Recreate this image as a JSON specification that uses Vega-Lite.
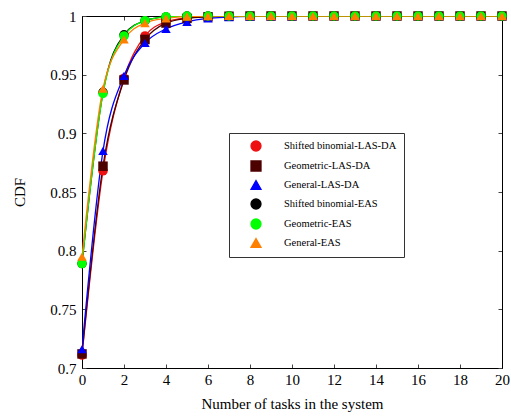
{
  "$schema": "https://vega.github.io/schema/vega-lite/v6.json",
  "width": 420,
  "height": 352,
  "autosize": {"type": "none"},
  "padding": {"left": 82, "top": 16, "right": 9, "bottom": 52},
  "background": "white",
  "config": {
    "view": {"stroke": "black", "strokeWidth": 1},
    "font": "Liberation Serif",
    "axis": {
      "grid": false,
      "domainColor": "black",
      "tickColor": "#444",
      "tickSize": -4,
      "labelColor": "black",
      "titleColor": "black",
      "labelFont": "Liberation Serif",
      "titleFont": "Liberation Serif",
      "labelFontSize": 15,
      "titleFontSize": 15,
      "titleFontWeight": "normal"
    },
    "legend": {
      "labelFont": "Liberation Serif",
      "labelFontSize": 10.5,
      "labelColor": "black"
    }
  },
  "data": {
    "values": [
      {"s": "Shifted binomial-LAS-DA", "k": 1, "x": 0, "y": 0.711},
      {"s": "Shifted binomial-LAS-DA", "k": 1, "x": 1, "y": 0.868},
      {"s": "Shifted binomial-LAS-DA", "k": 1, "x": 2, "y": 0.947},
      {"s": "Shifted binomial-LAS-DA", "k": 1, "x": 3, "y": 0.983},
      {"s": "Shifted binomial-LAS-DA", "k": 1, "x": 4, "y": 0.995},
      {"s": "Shifted binomial-LAS-DA", "k": 1, "x": 5, "y": 0.9985},
      {"s": "Shifted binomial-LAS-DA", "k": 1, "x": 6, "y": 0.9996},
      {"s": "Shifted binomial-LAS-DA", "k": 1, "x": 7, "y": 0.9999},
      {"s": "Shifted binomial-LAS-DA", "k": 1, "x": 8, "y": 1},
      {"s": "Shifted binomial-LAS-DA", "k": 1, "x": 9, "y": 1},
      {"s": "Shifted binomial-LAS-DA", "k": 1, "x": 10, "y": 1},
      {"s": "Shifted binomial-LAS-DA", "k": 1, "x": 11, "y": 1},
      {"s": "Shifted binomial-LAS-DA", "k": 1, "x": 12, "y": 1},
      {"s": "Shifted binomial-LAS-DA", "k": 1, "x": 13, "y": 1},
      {"s": "Shifted binomial-LAS-DA", "k": 1, "x": 14, "y": 1},
      {"s": "Shifted binomial-LAS-DA", "k": 1, "x": 15, "y": 1},
      {"s": "Shifted binomial-LAS-DA", "k": 1, "x": 16, "y": 1},
      {"s": "Shifted binomial-LAS-DA", "k": 1, "x": 17, "y": 1},
      {"s": "Shifted binomial-LAS-DA", "k": 1, "x": 18, "y": 1},
      {"s": "Shifted binomial-LAS-DA", "k": 1, "x": 19, "y": 1},
      {"s": "Shifted binomial-LAS-DA", "k": 1, "x": 20, "y": 1},
      {"s": "Geometric-LAS-DA", "k": 2, "x": 0, "y": 0.712},
      {"s": "Geometric-LAS-DA", "k": 2, "x": 1, "y": 0.872},
      {"s": "Geometric-LAS-DA", "k": 2, "x": 2, "y": 0.9455},
      {"s": "Geometric-LAS-DA", "k": 2, "x": 3, "y": 0.980},
      {"s": "Geometric-LAS-DA", "k": 2, "x": 4, "y": 0.994},
      {"s": "Geometric-LAS-DA", "k": 2, "x": 5, "y": 0.998},
      {"s": "Geometric-LAS-DA", "k": 2, "x": 6, "y": 0.9993},
      {"s": "Geometric-LAS-DA", "k": 2, "x": 7, "y": 0.9998},
      {"s": "Geometric-LAS-DA", "k": 2, "x": 8, "y": 1},
      {"s": "Geometric-LAS-DA", "k": 2, "x": 9, "y": 1},
      {"s": "Geometric-LAS-DA", "k": 2, "x": 10, "y": 1},
      {"s": "Geometric-LAS-DA", "k": 2, "x": 11, "y": 1},
      {"s": "Geometric-LAS-DA", "k": 2, "x": 12, "y": 1},
      {"s": "Geometric-LAS-DA", "k": 2, "x": 13, "y": 1},
      {"s": "Geometric-LAS-DA", "k": 2, "x": 14, "y": 1},
      {"s": "Geometric-LAS-DA", "k": 2, "x": 15, "y": 1},
      {"s": "Geometric-LAS-DA", "k": 2, "x": 16, "y": 1},
      {"s": "Geometric-LAS-DA", "k": 2, "x": 17, "y": 1},
      {"s": "Geometric-LAS-DA", "k": 2, "x": 18, "y": 1},
      {"s": "Geometric-LAS-DA", "k": 2, "x": 19, "y": 1},
      {"s": "Geometric-LAS-DA", "k": 2, "x": 20, "y": 1},
      {"s": "General-LAS-DA", "k": 3, "x": 0, "y": 0.716},
      {"s": "General-LAS-DA", "k": 3, "x": 1, "y": 0.885},
      {"s": "General-LAS-DA", "k": 3, "x": 2, "y": 0.949},
      {"s": "General-LAS-DA", "k": 3, "x": 3, "y": 0.977},
      {"s": "General-LAS-DA", "k": 3, "x": 4, "y": 0.989},
      {"s": "General-LAS-DA", "k": 3, "x": 5, "y": 0.995},
      {"s": "General-LAS-DA", "k": 3, "x": 6, "y": 0.998},
      {"s": "General-LAS-DA", "k": 3, "x": 7, "y": 0.999},
      {"s": "General-LAS-DA", "k": 3, "x": 8, "y": 0.9996},
      {"s": "General-LAS-DA", "k": 3, "x": 9, "y": 0.9998},
      {"s": "General-LAS-DA", "k": 3, "x": 10, "y": 0.9999},
      {"s": "General-LAS-DA", "k": 3, "x": 11, "y": 1},
      {"s": "General-LAS-DA", "k": 3, "x": 12, "y": 1},
      {"s": "General-LAS-DA", "k": 3, "x": 13, "y": 1},
      {"s": "General-LAS-DA", "k": 3, "x": 14, "y": 1},
      {"s": "General-LAS-DA", "k": 3, "x": 15, "y": 1},
      {"s": "General-LAS-DA", "k": 3, "x": 16, "y": 1},
      {"s": "General-LAS-DA", "k": 3, "x": 17, "y": 1},
      {"s": "General-LAS-DA", "k": 3, "x": 18, "y": 1},
      {"s": "General-LAS-DA", "k": 3, "x": 19, "y": 1},
      {"s": "General-LAS-DA", "k": 3, "x": 20, "y": 1},
      {"s": "Shifted binomial-EAS", "k": 4, "x": 0, "y": 0.789},
      {"s": "Shifted binomial-EAS", "k": 4, "x": 1, "y": 0.935},
      {"s": "Shifted binomial-EAS", "k": 4, "x": 2, "y": 0.984},
      {"s": "Shifted binomial-EAS", "k": 4, "x": 3, "y": 0.996},
      {"s": "Shifted binomial-EAS", "k": 4, "x": 4, "y": 0.9992},
      {"s": "Shifted binomial-EAS", "k": 4, "x": 5, "y": 0.9999},
      {"s": "Shifted binomial-EAS", "k": 4, "x": 6, "y": 1},
      {"s": "Shifted binomial-EAS", "k": 4, "x": 7, "y": 1},
      {"s": "Shifted binomial-EAS", "k": 4, "x": 8, "y": 1},
      {"s": "Shifted binomial-EAS", "k": 4, "x": 9, "y": 1},
      {"s": "Shifted binomial-EAS", "k": 4, "x": 10, "y": 1},
      {"s": "Shifted binomial-EAS", "k": 4, "x": 11, "y": 1},
      {"s": "Shifted binomial-EAS", "k": 4, "x": 12, "y": 1},
      {"s": "Shifted binomial-EAS", "k": 4, "x": 13, "y": 1},
      {"s": "Shifted binomial-EAS", "k": 4, "x": 14, "y": 1},
      {"s": "Shifted binomial-EAS", "k": 4, "x": 15, "y": 1},
      {"s": "Shifted binomial-EAS", "k": 4, "x": 16, "y": 1},
      {"s": "Shifted binomial-EAS", "k": 4, "x": 17, "y": 1},
      {"s": "Shifted binomial-EAS", "k": 4, "x": 18, "y": 1},
      {"s": "Shifted binomial-EAS", "k": 4, "x": 19, "y": 1},
      {"s": "Shifted binomial-EAS", "k": 4, "x": 20, "y": 1},
      {"s": "Geometric-EAS", "k": 5, "x": 0, "y": 0.789},
      {"s": "Geometric-EAS", "k": 5, "x": 1, "y": 0.934},
      {"s": "Geometric-EAS", "k": 5, "x": 2, "y": 0.983},
      {"s": "Geometric-EAS", "k": 5, "x": 3, "y": 0.996},
      {"s": "Geometric-EAS", "k": 5, "x": 4, "y": 0.9993},
      {"s": "Geometric-EAS", "k": 5, "x": 5, "y": 0.9999},
      {"s": "Geometric-EAS", "k": 5, "x": 6, "y": 1},
      {"s": "Geometric-EAS", "k": 5, "x": 7, "y": 1},
      {"s": "Geometric-EAS", "k": 5, "x": 8, "y": 1},
      {"s": "Geometric-EAS", "k": 5, "x": 9, "y": 1},
      {"s": "Geometric-EAS", "k": 5, "x": 10, "y": 1},
      {"s": "Geometric-EAS", "k": 5, "x": 11, "y": 1},
      {"s": "Geometric-EAS", "k": 5, "x": 12, "y": 1},
      {"s": "Geometric-EAS", "k": 5, "x": 13, "y": 1},
      {"s": "Geometric-EAS", "k": 5, "x": 14, "y": 1},
      {"s": "Geometric-EAS", "k": 5, "x": 15, "y": 1},
      {"s": "Geometric-EAS", "k": 5, "x": 16, "y": 1},
      {"s": "Geometric-EAS", "k": 5, "x": 17, "y": 1},
      {"s": "Geometric-EAS", "k": 5, "x": 18, "y": 1},
      {"s": "Geometric-EAS", "k": 5, "x": 19, "y": 1},
      {"s": "Geometric-EAS", "k": 5, "x": 20, "y": 1},
      {"s": "General-EAS", "k": 6, "x": 0, "y": 0.795},
      {"s": "General-EAS", "k": 6, "x": 1, "y": 0.938},
      {"s": "General-EAS", "k": 6, "x": 2, "y": 0.980},
      {"s": "General-EAS", "k": 6, "x": 3, "y": 0.994},
      {"s": "General-EAS", "k": 6, "x": 4, "y": 0.998},
      {"s": "General-EAS", "k": 6, "x": 5, "y": 0.9995},
      {"s": "General-EAS", "k": 6, "x": 6, "y": 0.9999},
      {"s": "General-EAS", "k": 6, "x": 7, "y": 1},
      {"s": "General-EAS", "k": 6, "x": 8, "y": 1},
      {"s": "General-EAS", "k": 6, "x": 9, "y": 1},
      {"s": "General-EAS", "k": 6, "x": 10, "y": 1},
      {"s": "General-EAS", "k": 6, "x": 11, "y": 1},
      {"s": "General-EAS", "k": 6, "x": 12, "y": 1},
      {"s": "General-EAS", "k": 6, "x": 13, "y": 1},
      {"s": "General-EAS", "k": 6, "x": 14, "y": 1},
      {"s": "General-EAS", "k": 6, "x": 15, "y": 1},
      {"s": "General-EAS", "k": 6, "x": 16, "y": 1},
      {"s": "General-EAS", "k": 6, "x": 17, "y": 1},
      {"s": "General-EAS", "k": 6, "x": 18, "y": 1},
      {"s": "General-EAS", "k": 6, "x": 19, "y": 1},
      {"s": "General-EAS", "k": 6, "x": 20, "y": 1}
    ]
  },
  "encoding": {
    "color": {
      "field": "s", "type": "nominal",
      "scale": {
        "domain": ["Shifted binomial-LAS-DA", "Geometric-LAS-DA", "General-LAS-DA", "Shifted binomial-EAS", "Geometric-EAS", "General-EAS"],
        "range": ["#ee1111", "#4d0000", "#0000ff", "#000000", "#00ff00", "#ff8000"]
      },
      "legend": {
        "title": null,
        "orient": "none",
        "legendX": 147,
        "legendY": 117,
        "labelFont": "Liberation Serif",
        "labelFontSize": 10.5,
        "labelColor": "black",
        "fillColor": "white",
        "strokeColor": "#333",
        "padding": 7,
        "rowPadding": 4,
        "labelOffset": 22,
        "symbolOffset": 14,
        "symbolType": "M-3.2,0H3.2M0.9,0A0.9,0.9,0,1,1,-0.9,0A0.9,0.9,0,1,1,0.9,0Z",
        "symbolSize": 100,
        "symbolStrokeWidth": 1.3,
        "encode": {
          "symbols": {
            "update": {
              "shape": {"signal": "datum.value === 'Geometric-LAS-DA' ? 'M-3.2,0H3.2M-0.85,-0.85H0.85V0.85H-0.85Z' : (datum.value === 'General-LAS-DA' || datum.value === 'General-EAS') ? 'M-3.2,0H3.2M0,-1.05L0.95,0.65H-0.95Z' : 'M-3.2,0H3.2M0.9,0A0.9,0.9,0,1,1,-0.9,0A0.9,0.9,0,1,1,0.9,0Z'"},
              "size": {"value": 100},
              "stroke": {"signal": "scale('color', datum.value)"},
              "strokeWidth": {"value": 1.3}
            }
          }
        }
      }
    }
  },
  "layer": [
    {
      "mark": {"type": "line", "interpolate": "monotone", "strokeWidth": 1.3, "clip": true},
      "encoding": {
        "x": {
          "field": "x", "type": "quantitative",
          "scale": {"domain": [0, 20], "nice": false},
          "axis": {"title": "Number of tasks in the system", "values": [0,2,4,6,8,10,12,14,16,18,20], "labelPadding": 8, "titlePadding": 9, "labelFlush": false}
        },
        "y": {
          "field": "y", "type": "quantitative",
          "scale": {"domain": [0.7, 1], "nice": false, "zero": false},
          "axis": {"title": "CDF", "values": [0.7,0.75,0.8,0.85,0.9,0.95,1], "labelExpr": "format(datum.value, '~g')", "labelPadding": 10, "titlePadding": 22, "labelFlush": false}
        },
        "detail": {"field": "s"}
      }
    },
    {
      "mark": {"type": "point", "filled": true, "opacity": 1, "size": 90, "clip": false},
      "encoding": {
        "x": {"field": "x", "type": "quantitative", "axis": {"orient": "top", "labels": false, "title": null, "values": [0,2,4,6,8,10,12,14,16,18,20]}},
        "y": {"field": "y", "type": "quantitative", "axis": {"orient": "right", "labels": false, "title": null, "values": [0.7,0.75,0.8,0.85,0.9,0.95,1]}},
        "shape": {
          "field": "s", "type": "nominal", "legend": null,
          "scale": {
            "domain": ["Shifted binomial-LAS-DA", "Geometric-LAS-DA", "General-LAS-DA", "Shifted binomial-EAS", "Geometric-EAS", "General-EAS"],
            "range": ["circle", "square", "triangle-up", "circle", "circle", "triangle-up"]
          }
        },
        "order": {"field": "k", "type": "quantitative"}
      }
    }
  ],
  "resolve": {"axis": {"x": "independent", "y": "independent"}}
}
